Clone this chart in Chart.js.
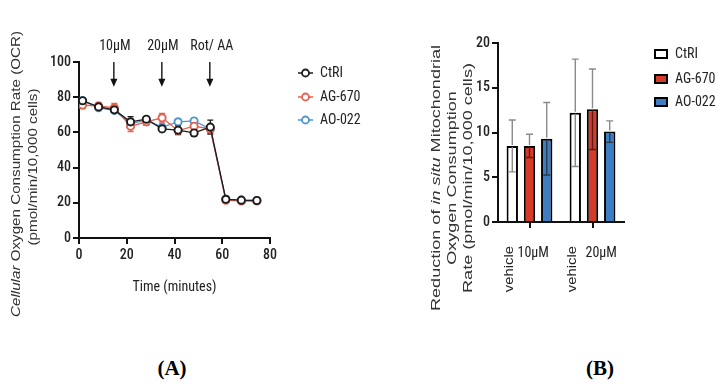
<!DOCTYPE html>
<html><head><meta charset="utf-8">
<script src="https://cdn.jsdelivr.net/npm/chart.js@4.4.0/dist/chart.umd.min.js"></script>
<style>
html,body{margin:0;padding:0;background:#fff;width:716px;height:392px;overflow:hidden;}
#c1{position:absolute;left:0;top:0;}
#c2{position:absolute;left:400px;top:0;}
.lab{position:absolute;font-family:"Liberation Serif","DejaVu Serif",serif;font-weight:bold;font-size:21px;color:#000;transform:translateX(-50%);}
</style></head><body>
<canvas id="c1" width="400" height="330"></canvas>
<canvas id="c2" width="316" height="330"></canvas>
<div class="lab" style="left:172px;top:356px">(A)</div>
<div class="lab" style="left:600px;top:356px">(B)</div>
<script>
// ---------- Panel A data ----------
const timeMin   = [1.5, 8.2, 14.8, 21.6, 28.2, 34.8, 41.5, 48.2, 55.0, 61.5, 68.0, 74.5];
const ctrlOCR   = [78.0, 74.5, 72.8, 66.0, 67.5, 62.0, 61.3, 59.7, 63.0, 22.0, 21.5, 21.3];
const ctrlErr   = [1.5, 1.5, 1.5, 3.0, 1.5, 1.5, 2.5, 2.0, 4.0, 1.2, 1.0, 1.0];
const agOCR     = [75.5, 75.0, 74.0, 63.5, 66.0, 68.3, 61.0, 63.5, 62.0, 21.5, 21.0, 21.0];
const agErr     = [2.0, 2.0, 2.5, 3.0, 2.0, 2.5, 2.0, 2.0, 2.5, 1.0, 1.0, 1.0];
const aoOCR     = [78.0, 74.0, 72.5, 65.0, 67.0, 63.0, 66.0, 66.5, 62.0, 22.0, 21.5, 21.3];
const aoErr     = [1.0, 1.0, 1.0, 2.0, 1.5, 1.5, 1.5, 1.5, 2.0, 1.0, 1.0, 1.0];
const injectTimes  = [14.6, 34.7, 54.8];
const injectLabels = ['10μM', '20μM', 'Rot/ AA'];
const seriesNames  = ['CtRI', 'AG-670', 'AO-022'];
const xTicksA = [0, 20, 40, 60, 80];
const yTicksA = [0, 20, 40, 60, 80, 100];

// ---------- Panel B data ----------
const groups   = ['10μM', '20μM'];
const ctrlRed  = [8.5, 12.2];
const ctrlSD   = [2.9, 6.0];
const agRed    = [8.5, 12.6];
const agSD     = [1.3, 4.5];
const aoRed    = [9.3, 10.1];
const aoSD     = [4.05, 1.2];
const yTicksB  = [0, 5, 10, 15, 20];

const NARROW = '"Liberation Sans Narrow","Roboto Condensed","Arial Narrow","Liberation Sans",sans-serif';
const SANS = '"Liberation Sans",Arial,sans-serif';
const colA = ['#1c1c1c', '#e5604d', '#5094d0'];
const colB = ['#ffffff', '#d43c29', '#3b7ec3'];
const tickFont = {family: NARROW, size: 14, weight: '500'};

function widthOf(ctx, parts, size) {
  let total = 0;
  parts.forEach(p => { ctx.font = (p[1] ? 'italic ' : '') + size + 'px ' + SANS; total += ctx.measureText(p[0]).width; });
  return total;
}
// rotated title, stretched along the text direction by sx
function drawMixed(ctx, parts, cx, cy, size, sx) {
  ctx.save();
  ctx.translate(cx, cy); ctx.rotate(-Math.PI/2); ctx.scale(sx, 1);
  const total = widthOf(ctx, parts, size);
  let x = -total/2;
  ctx.textBaseline = 'middle'; ctx.textAlign = 'left'; ctx.fillStyle = '#333';
  parts.forEach(p => { ctx.font = (p[1] ? 'italic ' : '') + size + 'px ' + SANS; ctx.fillText(p[0], x, 0); x += ctx.measureText(p[0]).width; });
  ctx.restore();
}

// ---------- Chart A ----------
const errA = [ctrlErr, agErr, aoErr];
const plugA = {
  id: 'plugA',
  beforeDatasetsDraw(chart) {
    const ctx = chart.ctx, xs = chart.scales.x, ys = chart.scales.y;
    for (let di = 2; di >= 0; di--) {
      const ds = chart.data.datasets[di];
      ctx.save(); ctx.strokeStyle = ds.borderColor; ctx.lineWidth = 1.3;
      ds.data.forEach((p, i) => {
        const x = xs.getPixelForValue(p.x);
        const y1 = ys.getPixelForValue(p.y + errA[di][i]), y2 = ys.getPixelForValue(p.y - errA[di][i]);
        ctx.beginPath();
        ctx.moveTo(x, y1); ctx.lineTo(x, y2);
        ctx.moveTo(x-3, y1); ctx.lineTo(x+3, y1);
        ctx.moveTo(x-3, y2); ctx.lineTo(x+3, y2);
        ctx.stroke();
      });
      ctx.restore();
    }
  },
  afterDraw(chart) {
    const ctx = chart.ctx, xs = chart.scales.x, ys = chart.scales.y;
    injectTimes.forEach((t, i) => {
      const x = xs.getPixelForValue(t), yTop = ys.getPixelForValue(100), yTip = ys.getPixelForValue(86);
      ctx.save();
      ctx.strokeStyle = '#111'; ctx.fillStyle = '#111'; ctx.lineWidth = 1.4;
      ctx.beginPath(); ctx.moveTo(x, yTop); ctx.lineTo(x, yTip - 6); ctx.stroke();
      ctx.beginPath(); ctx.moveTo(x - 3.5, yTip - 8); ctx.lineTo(x + 3.5, yTip - 8); ctx.lineTo(x, yTip); ctx.closePath(); ctx.fill();
      ctx.font = '14px ' + NARROW; ctx.textAlign = 'center'; ctx.textBaseline = 'middle'; ctx.fillStyle = '#222';
      ctx.fillText(injectLabels[i], x + (i === 2 ? 2 : 1), yTop - 16);
      ctx.restore();
    });
    const l1 = [['Cellular', true], [' Oxygen Consumption Rate (OCR)', false]];
    const sz = 13.5, sx = 286 / widthOf(ctx, l1, sz);
    drawMixed(ctx, l1, 16, 174, sz, sx);
    drawMixed(ctx, [['(pmol/min/10,000 cells)', false]], 33, 167, sz, sx);
    const ly = [73, 97, 120];
    seriesNames.forEach((n, i) => {
      ctx.save();
      ctx.strokeStyle = colA[i]; ctx.lineWidth = 1.5;
      ctx.beginPath(); ctx.moveTo(298, ly[i]); ctx.lineTo(313, ly[i]); ctx.stroke();
      ctx.fillStyle = '#fff'; ctx.lineWidth = 1.8;
      ctx.beginPath(); ctx.arc(305.5, ly[i], 3.5, 0, Math.PI*2); ctx.fill(); ctx.stroke();
      ctx.font = '14px ' + NARROW; ctx.fillStyle = '#222'; ctx.textAlign = 'left'; ctx.textBaseline = 'middle';
      ctx.fillText(n, 320, ly[i]);
      ctx.restore();
    });
  }
};

const mk = (ys) => timeMin.map((t, i) => ({x: t, y: ys[i]}));
new Chart(document.getElementById('c1'), {
  type: 'scatter',
  data: {
    datasets: [ctrlOCR, agOCR, aoOCR].map((d, i) => ({
      label: seriesNames[i], data: mk(d), showLine: true,
      borderColor: colA[i], backgroundColor: '#fff', borderWidth: 1.3,
      pointRadius: 3.6, pointBorderWidth: 1.9, pointBackgroundColor: '#fff', pointBorderColor: colA[i]
    }))
  },
  options: {
    responsive: false, animation: false, devicePixelRatio: 1,
    layout: {padding: {left: 0, top: 62, right: 130, bottom: 30}},
    plugins: {legend: {display: false}, tooltip: {enabled: false}},
    scales: {
      x: {
        type: 'linear', min: 0, max: 80,
        afterBuildTicks: s => { s.ticks = xTicksA.map(v => ({value: v})); },
        afterFit: s => { s.height = 62; },
        ticks: {font: tickFont, color: '#222', padding: 3},
        grid: {drawOnChartArea: false, drawTicks: true, tickLength: 6, color: '#111', lineWidth: 2},
        border: {display: true, color: '#111', width: 2},
        title: {display: true, text: 'Time (minutes)', font: {family: NARROW, size: 14}, color: '#222', padding: {top: 3}}
      },
      y: {
        min: 0, max: 100,
        afterBuildTicks: s => { s.ticks = yTicksA.map(v => ({value: v})); },
        afterFit: s => { s.width = 79; },
        ticks: {font: tickFont, color: '#222', padding: 2},
        grid: {drawOnChartArea: false, drawTicks: true, tickLength: 6, color: '#111', lineWidth: 2},
        border: {display: true, color: '#111', width: 2}
      }
    }
  },
  plugins: [plugA]
});

// ---------- Chart B ----------
const sdB = [ctrlSD, agSD, aoSD];
const lowerCol = ['#8a8a8a', '#5e1a12', '#2b3a4a'];
const plugB = {
  id: 'plugB',
  afterDatasetsDraw(chart) {
    const ctx = chart.ctx, ys = chart.scales.y;
    chart.data.datasets.forEach((ds, di) => {
      const meta = chart.getDatasetMeta(di);
      meta.data.forEach((bar, i) => {
        const v = ds.data[i], sd = sdB[di][i];
        const x = bar.x, y0 = ys.getPixelForValue(v), yu = ys.getPixelForValue(v + sd), yl = ys.getPixelForValue(v - sd);
        ctx.save(); ctx.lineWidth = 1.4;
        ctx.strokeStyle = '#8a8a8a';
        ctx.beginPath(); ctx.moveTo(x, y0 - 1); ctx.lineTo(x, yu); ctx.moveTo(x-3.5, yu); ctx.lineTo(x+3.5, yu); ctx.stroke();
        ctx.strokeStyle = lowerCol[di];
        ctx.beginPath(); ctx.moveTo(x, y0 + 1); ctx.lineTo(x, yl); ctx.moveTo(x-3.5, yl); ctx.lineTo(x+3.5, yl); ctx.stroke();
        ctx.restore();
      });
    });
  },
  afterDraw(chart) {
    const ctx = chart.ctx;
    const m0 = chart.getDatasetMeta(0), m1 = chart.getDatasetMeta(1);
    groups.forEach((g, i) => {
      ctx.save();
      ctx.fillStyle = '#222';
      ctx.translate(m0.data[i].x - 3, 246); ctx.rotate(-Math.PI/2); ctx.scale(1.1, 1);
      ctx.font = '13.5px ' + SANS; ctx.textAlign = 'right'; ctx.textBaseline = 'middle';
      ctx.fillText('vehicle', 0, 0);
      ctx.restore();
      ctx.save();
      ctx.fillStyle = '#222'; ctx.font = '14px ' + NARROW; ctx.textAlign = 'left'; ctx.textBaseline = 'middle';
      ctx.fillText(g, m1.data[i].x - (i === 0 ? 12 : 7), 253);
      ctx.restore();
    });
    const l1 = [['Reduction of ', false], ['in situ', true], [' Mitochondrial', false]];
    const sz = 13.5, sx = 266 / widthOf(ctx, l1, sz);
    drawMixed(ctx, l1, 36, 178, sz, sx);
    drawMixed(ctx, [['Oxygen Consumption', false]], 52, 178, sz, sx);
    drawMixed(ctx, [['Rate (pmol/min/10,000 cells)', false]], 68, 178, sz, sx);
    const ly = [54, 79, 102];
    ['CtRI', 'AG-670', 'AO-022'].forEach((n, i) => {
      ctx.save();
      ctx.fillStyle = colB[i]; ctx.strokeStyle = '#000'; ctx.lineWidth = 2;
      ctx.fillRect(255, ly[i] - 4, 12, 8); ctx.strokeRect(255, ly[i] - 4, 12, 8);
      ctx.font = '14px ' + NARROW; ctx.fillStyle = '#222'; ctx.textAlign = 'left'; ctx.textBaseline = 'middle';
      ctx.fillText(n, 275, ly[i]);
      ctx.restore();
    });
  }
};

new Chart(document.getElementById('c2'), {
  type: 'bar',
  data: {
    labels: groups,
    datasets: [ctrlRed, agRed, aoRed].map((d, i) => ({
      label: seriesNames[i], data: d, backgroundColor: colB[i], borderColor: '#000', borderWidth: 2,
      borderSkipped: 'start', barPercentage: 0.66, categoryPercentage: 0.82
    }))
  },
  options: {
    responsive: false, animation: false, devicePixelRatio: 1,
    layout: {padding: {left: 0, top: 43, right: 92, bottom: 30}},
    plugins: {legend: {display: false}, tooltip: {enabled: false}},
    scales: {
      x: {
        afterFit: s => { s.height = 78; },
        ticks: {display: false},
        grid: {offset: false, drawOnChartArea: false, drawTicks: true, tickLength: 6, color: '#111', lineWidth: 2},
        border: {display: true, color: '#111', width: 2}
      },
      y: {
        min: 0, max: 20,
        afterBuildTicks: s => { s.ticks = yTicksB.map(v => ({value: v})); },
        afterFit: s => { s.width = 98; },
        ticks: {font: tickFont, color: '#222', padding: 2},
        grid: {drawOnChartArea: false, drawTicks: true, tickLength: 6, color: '#111', lineWidth: 2},
        border: {display: true, color: '#111', width: 2}
      }
    }
  },
  plugins: [plugB]
});
</script>
</body></html>
